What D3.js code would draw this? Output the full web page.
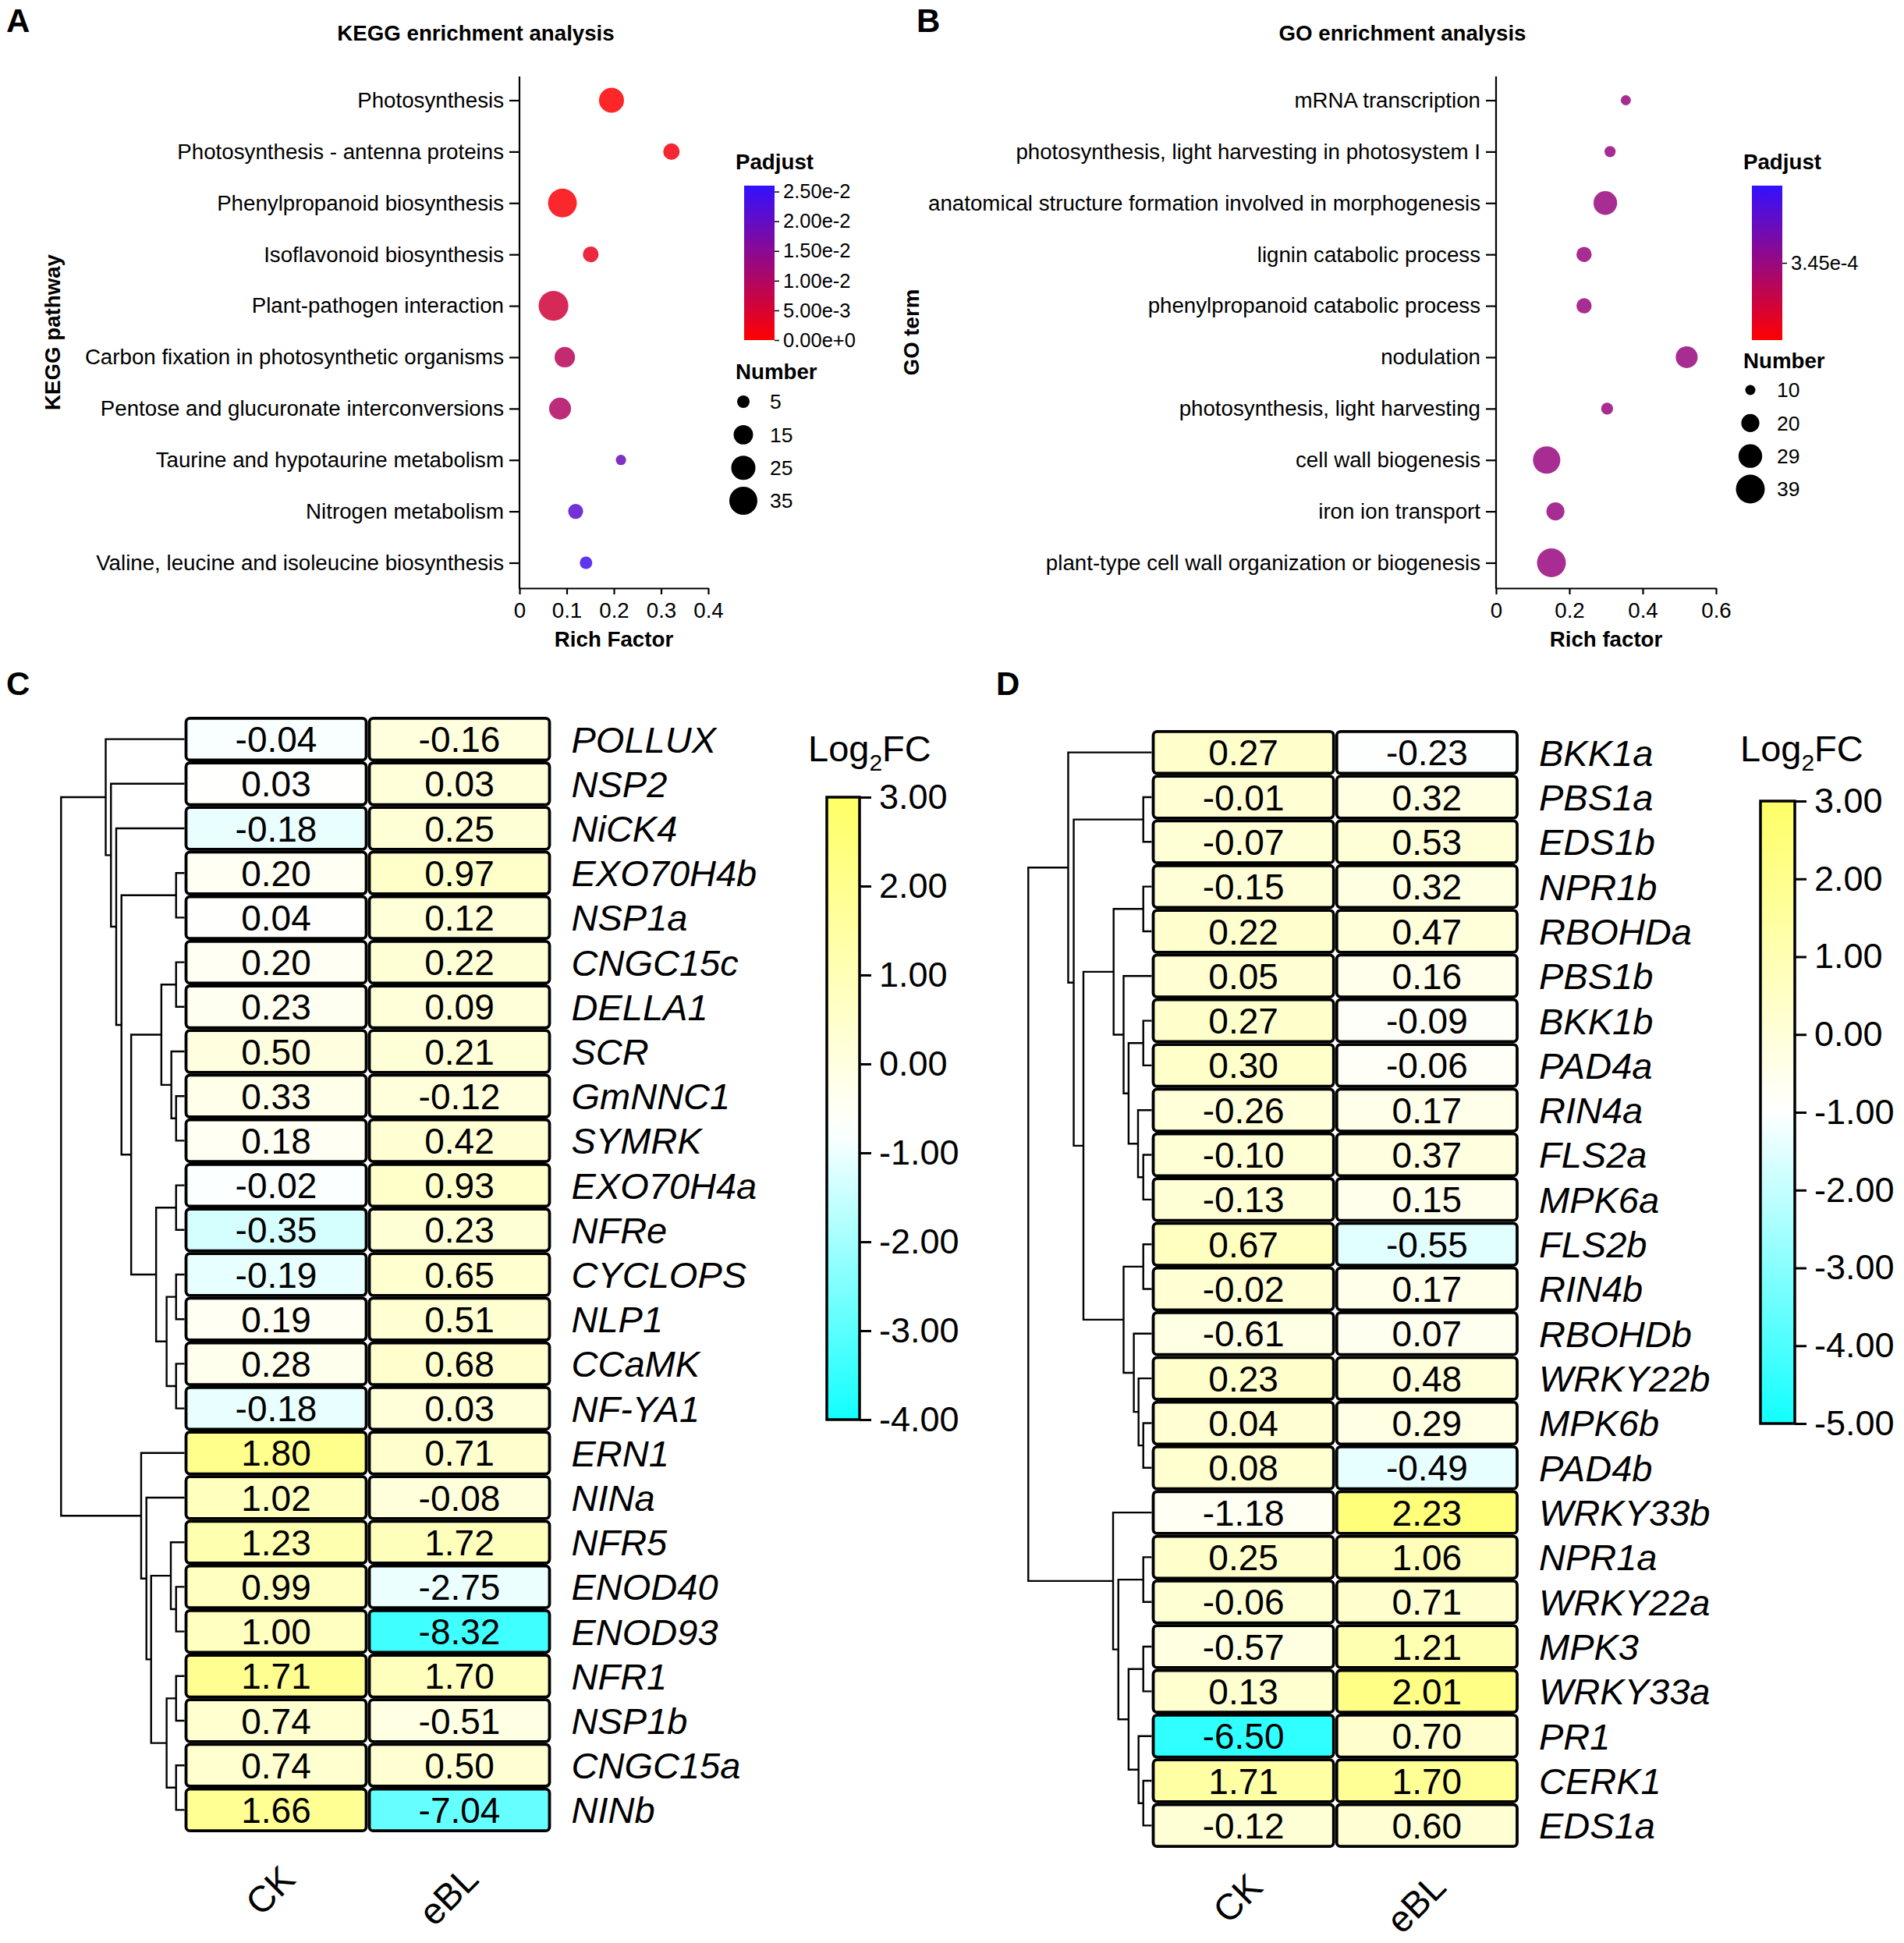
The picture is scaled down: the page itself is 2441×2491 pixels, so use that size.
<!DOCTYPE html>
<html>
<head>
<meta charset="utf-8">
<script src="https://cdn.jsdelivr.net/npm/d3@7"></script>
<style>
  body { margin: 0; background: #fff; }
  svg text { font-family: "Liberation Sans", Arial, sans-serif; fill: #000; }
</style>
</head>
<body>
<svg id="fig" width="2441" height="2491"></svg>
<script>
// ---------- Panel A: KEGG enrichment ----------
var keggTerms = [
  'Photosynthesis',
  'Photosynthesis - antenna proteins',
  'Phenylpropanoid biosynthesis',
  'Isoflavonoid biosynthesis',
  'Plant-pathogen interaction',
  'Carbon fixation in photosynthetic organisms',
  'Pentose and glucuronate interconversions',
  'Taurine and hypotaurine metabolism',
  'Nitrogen metabolism',
  'Valine, leucine and isoleucine biosynthesis'
];
var keggRich = [0.195, 0.322, 0.091, 0.151, 0.072, 0.096, 0.086, 0.215, 0.119, 0.141];
var keggCount = [27, 10, 37, 9, 40, 17, 20, 3, 8, 5];
var keggPadj = [0.0002, 0.0015, 0.0008, 0.003, 0.006, 0.009, 0.010, 0.019, 0.021, 0.024];
var keggXTicks = [0, 0.1, 0.2, 0.3, 0.4];
var keggPadjTicks = [0, 0.005, 0.01, 0.015, 0.02, 0.025];
var keggSizeTicks = [5, 15, 25, 35];

// ---------- Panel B: GO enrichment ----------
var goTerms = [
  'mRNA transcription',
  'photosynthesis, light harvesting in photosystem I',
  'anatomical structure formation involved in morphogenesis',
  'lignin catabolic process',
  'phenylpropanoid catabolic process',
  'nodulation',
  'photosynthesis, light harvesting',
  'cell wall biogenesis',
  'iron ion transport',
  'plant-type cell wall organization or biogenesis'
];
var goRich = [0.354, 0.311, 0.298, 0.240, 0.240, 0.520, 0.303, 0.138, 0.162, 0.151];
var goCount = [10, 11, 29, 16, 16, 26, 12, 36, 20, 39];
var goPadj = [3.45e-4, 3.45e-4, 3.45e-4, 3.45e-4, 3.45e-4, 3.45e-4, 3.45e-4, 3.45e-4, 3.45e-4, 3.45e-4];
var goXTicks = [0, 0.2, 0.4, 0.6];
var goPadjTicks = [3.45e-4];
var goSizeTicks = [10, 20, 29, 39];

// ---------- Panel C: nodulation genes heatmap ----------
var samples = ['CK', 'eBL'];
var nodGenes = ['POLLUX', 'NSP2', 'NiCK4', 'EXO70H4b', 'NSP1a', 'CNGC15c', 'DELLA1', 'SCR',
  'GmNNC1', 'SYMRK', 'EXO70H4a', 'NFRe', 'CYCLOPS', 'NLP1', 'CCaMK', 'NF-YA1', 'ERN1',
  'NINa', 'NFR5', 'ENOD40', 'ENOD93', 'NFR1', 'NSP1b', 'CNGC15a', 'NINb'];
var nodCK = [-0.04, 0.03, -0.18, 0.20, 0.04, 0.20, 0.23, 0.50, 0.33, 0.18, -0.02, -0.35, -0.19,
  0.19, 0.28, -0.18, 1.80, 1.02, 1.23, 0.99, 1.00, 1.71, 0.74, 0.74, 1.66];
var nodEBL = [-0.16, 0.03, 0.25, 0.97, 0.12, 0.22, 0.09, 0.21, -0.12, 0.42, 0.93, 0.23, 0.65,
  0.51, 0.68, 0.03, 0.71, -0.08, 1.72, -2.75, -8.32, 1.70, -0.51, 0.50, -7.04];
// [merge height, left, right]; leaves are gene names
var nodTree = [470,
  [300, 'POLLUX', [280, 'NSP2', [260, 'NiCK4', [240,
    [32, 'EXO70H4b', 'NSP1a'],
    [203,
      [88, [32, 'CNGC15c', 'DELLA1'], [50, 'SCR', [32, 'GmNNC1', 'SYMRK']]],
      [108, [32, 'EXO70H4a', 'NFRe'], [68, [32, 'CYCLOPS', 'NLP1'], [32, 'CCaMK', 'NF-YA1']]]]]]]],
  [165, 'ERN1', [145, 'NINa', [127,
    [52, 'NFR5', [32, 'ENOD40', 'ENOD93']],
    [68, [32, 'NFR1', 'NSP1b'], [32, 'CNGC15a', 'NINb']]]]]];
var nodLegendTicks = [3, 2, 1, 0, -1, -2, -3, -4];

// ---------- Panel D: immunity genes heatmap ----------
var immGenes = ['BKK1a', 'PBS1a', 'EDS1b', 'NPR1b', 'RBOHDa', 'PBS1b', 'BKK1b', 'PAD4a', 'RIN4a',
  'FLS2a', 'MPK6a', 'FLS2b', 'RIN4b', 'RBOHDb', 'WRKY22b', 'MPK6b', 'PAD4b', 'WRKY33b',
  'NPR1a', 'WRKY22a', 'MPK3', 'WRKY33a', 'PR1', 'CERK1', 'EDS1a'];
var immCK = [0.27, -0.01, -0.07, -0.15, 0.22, 0.05, 0.27, 0.30, -0.26, -0.10, -0.13, 0.67, -0.02,
  -0.61, 0.23, 0.04, 0.08, -1.18, 0.25, -0.06, -0.57, 0.13, -6.50, 1.71, -0.12];
var immEBL = [-0.23, 0.32, 0.53, 0.32, 0.47, 0.16, -0.09, -0.06, 0.17, 0.37, 0.15, -0.55, 0.17,
  0.07, 0.48, 0.29, -0.49, 2.23, 1.06, 0.71, 1.21, 2.01, 0.70, 1.70, 0.60];
var immTree = [470,
  [318, 'BKK1a', [297,
    [32, 'PBS1a', 'EDS1b'],
    [260,
      [145, [32, 'NPR1b', 'RBOHDa'], [107, 'PBS1b', [88, [32, 'BKK1b', 'PAD4a'], [52, 'RIN4a', [32, 'FLS2a', 'MPK6a']]]]],
      [107, [32, 'FLS2b', 'RIN4b'], [68, 'RBOHDb', [50, 'WRKY22b', [32, 'MPK6b', 'PAD4b']]]]]]],
  [147, 'WRKY33b', [127,
    [32, 'NPR1a', 'WRKY22a'],
    [88, [32, 'MPK3', 'WRKY33a'], [50, 'PR1', [32, 'CERK1', 'EDS1a']]]]]];
var immLegendTicks = [3, 2, 1, 0, -1, -2, -3, -4, -5];

// Plain hyphen minus, like the original figure.
var loc = d3.formatLocale({decimal: '.', thousands: ',', grouping: [3], currency: ['', ''], minus: '-'});
var f2 = loc.format('.2f');
var fExp = loc.format('.2e');
var fShort = loc.format('~g');

var svg = d3.select('#fig');
svg.append('rect').attr('width', 2441).attr('height', 2491).attr('fill', '#fff');

var gradCount = 0;

// Vertical gradient legend bar, drawn from a colour function over a domain.
function colorBar(g, yScale, colorFn, x, w, withBorder) {
  var id = 'grad' + (gradCount++);
  var dom = yScale.domain();
  var grad = svg.append('defs').append('linearGradient')
    .attr('id', id).attr('x1', 0).attr('y1', 1).attr('x2', 0).attr('y2', 0);
  d3.range(0, 1.0001, 0.05).forEach(function(t) {
    grad.append('stop').attr('offset', t)
      .attr('stop-color', colorFn(dom[0] + t * (dom[1] - dom[0])));
  });
  var r = yScale.range();
  g.append('rect')
    .attr('x', x).attr('y', Math.min(r[0], r[1]))
    .attr('width', w).attr('height', Math.abs(r[0] - r[1]))
    .attr('fill', 'url(#' + id + ')')
    .attr('stroke', withBorder ? '#000' : 'none')
    .attr('stroke-width', withBorder ? 3.5 : 0);
}

function styleAxis(sel, fontSize) {
  sel.attr('font-size', null).attr('font-family', null);
  sel.selectAll('text').style('font-size', fontSize + 'px').attr('fill', '#000');
  sel.selectAll('line,path').attr('stroke', '#000').attr('stroke-width', 2.2);
}

/**
 * Bubble plot for an enrichment table.
 */
function bubblePanel(cfg) {
  var g = svg.append('g');
  var y = d3.scalePoint().domain(cfg.terms).range([128.5, 721.5]);
  var x = d3.scaleLinear().domain(cfg.xDomain).range(cfg.xRange);
  var r = d3.scaleSqrt().domain(cfg.sizeDomain).range(cfg.sizeRange);
  var color = d3.scaleSequential(d3.interpolateRgb('#ff0000', '#3311ff')).domain(cfg.padjDomain);

  // Axes.
  var xAxis = g.append('g').attr('transform', 'translate(0,754)')
    .call(d3.axisBottom(x).tickValues(cfg.xTicks).tickFormat(fShort)
      .tickSize(8).tickSizeOuter(0).tickPadding(10));
  styleAxis(xAxis, 27.7);

  var yAxis = g.append('g').attr('transform', 'translate(' + cfg.xRange[0] + ',0)')
    .call(d3.axisLeft(y).tickSize(13).tickPadding(7));
  yAxis.select('.domain').remove();
  styleAxis(yAxis, 27.7);
  g.append('line')
    .attr('x1', cfg.xRange[0]).attr('x2', cfg.xRange[0])
    .attr('y1', 98).attr('y2', 755)
    .attr('stroke', '#000').attr('stroke-width', 2.2);

  // Points.
  g.selectAll('circle.pt').data(cfg.terms).enter().append('circle')
    .attr('class', 'pt')
    .attr('cx', function(d, i) { return x(cfg.rich[i]); })
    .attr('cy', function(d) { return y(d); })
    .attr('r', function(d, i) { return r(cfg.count[i]); })
    .attr('fill', function(d, i) { return color(cfg.padj[i]); })
    .attr('fill-opacity', 0.85);

  // Titles.
  g.append('text').attr('x', (cfg.xRange[0] + cfg.xRange[1]) / 2 + cfg.titleShift).attr('y', 52)
    .attr('text-anchor', 'middle').style('font-size', '27.7px').style('font-weight', 'bold')
    .text(cfg.title);
  g.append('text').attr('x', (cfg.xRange[0] + cfg.xRange[1]) / 2).attr('y', 829)
    .attr('text-anchor', 'middle').style('font-size', '27.7px').style('font-weight', 'bold')
    .text(cfg.xLabel);
  g.append('text')
    .attr('transform', 'translate(' + cfg.yLabelX + ',426) rotate(-90)')
    .attr('text-anchor', 'middle').attr('dy', '0.35em')
    .style('font-size', '27.7px').style('font-weight', 'bold')
    .text(cfg.yLabel);
  g.append('text').attr('x', cfg.panelX).attr('y', 41)
    .style('font-size', '42px').style('font-weight', 'bold').text(cfg.panel);

  // Padjust legend.
  var lx = cfg.legendX;
  g.append('text').attr('x', lx).attr('y', 217)
    .style('font-size', '27.7px').style('font-weight', 'bold').text('Padjust');
  var barY = d3.scaleLinear().domain(cfg.padjDomain).range([436, 238]);
  colorBar(g, barY, color, lx + 11, 39, false);
  var bAxis = g.append('g').attr('transform', 'translate(' + (lx + 50) + ',0)')
    .call(d3.axisRight(barY).tickValues(cfg.padjTicks).tickFormat(fExp).tickSize(6).tickPadding(5));
  bAxis.select('.domain').remove();
  styleAxis(bAxis, 25.5);
  bAxis.selectAll('line').attr('stroke-width', 1.5);

  // Number legend.
  g.append('text').attr('x', lx).attr('y', cfg.numTitleY)
    .style('font-size', '27.7px').style('font-weight', 'bold').text('Number');
  var ly = d3.scalePoint().domain(cfg.sizeTicks).range(cfg.numRange);
  g.selectAll('circle.lg').data(cfg.sizeTicks).enter().append('circle')
    .attr('class', 'lg')
    .attr('cx', lx + cfg.numDx).attr('cy', function(d) { return ly(d); })
    .attr('r', function(d) { return r(d); }).attr('fill', '#000');
  g.selectAll('text.lg').data(cfg.sizeTicks).enter().append('text')
    .attr('class', 'lg')
    .attr('x', lx + cfg.numTx).attr('y', function(d) { return ly(d); }).attr('dy', '0.35em')
    .style('font-size', '26.5px').text(function(d) { return d; });
}

bubblePanel({
  panel: 'A', panelX: 8, title: 'KEGG enrichment analysis', titleShift: -177,
  xLabel: 'Rich Factor', yLabel: 'KEGG pathway', yLabelX: 67,
  terms: keggTerms, rich: keggRich, count: keggCount, padj: keggPadj,
  xDomain: [0, 0.4], xRange: [666, 908], xTicks: keggXTicks,
  sizeDomain: [5, 35], sizeRange: [8, 18], sizeTicks: keggSizeTicks,
  padjDomain: [0, 0.026], padjTicks: keggPadjTicks,
  legendX: 943, numTitleY: 486, numRange: [515, 642], numDx: 10, numTx: 44
});

bubblePanel({
  panel: 'B', panelX: 1175, title: 'GO enrichment analysis', titleShift: -261,
  xLabel: 'Rich factor', yLabel: 'GO term', yLabelX: 1168,
  terms: goTerms, rich: goRich, count: goCount, padj: goPadj,
  xDomain: [0, 0.6], xRange: [1918, 2200], xTicks: goXTicks,
  sizeDomain: [10, 39], sizeRange: [6.5, 18.5], sizeTicks: goSizeTicks,
  padjDomain: [3.40e-4, 3.50e-4], padjTicks: goPadjTicks,
  legendX: 2235, numTitleY: 472, numRange: [500, 627], numDx: 9, numTx: 43
});

/**
 * Heatmap with row dendrogram; colours follow column z-scores.
 */
function heatPanel(cfg) {
  var g = svg.append('g');
  var y = d3.scaleBand().domain(cfg.genes).range([cfg.top, cfg.bottom]);
  var x = d3.scaleBand().domain(samples).range([cfg.left, cfg.right]);
  var color = d3.scaleLinear().domain(cfg.colorDomain)
    .range(['#11ffff', '#ffffff', '#ffff66']).clamp(true);

  var cells = [];
  [cfg.ck, cfg.ebl].forEach(function(vals, j) {
    var m = d3.mean(vals), s = d3.deviation(vals);
    vals.forEach(function(v, i) {
      cells.push({gene: cfg.genes[i], sample: samples[j], value: v, z: (v - m) / s});
    });
  });

  g.selectAll('rect.cell').data(cells).enter().append('rect')
    .attr('class', 'cell')
    .attr('x', function(d) { return x(d.sample) + 2; })
    .attr('y', function(d) { return y(d.gene) + 1.8; })
    .attr('width', x.bandwidth() - 4)
    .attr('height', y.bandwidth() - 3.6)
    .attr('rx', 5)
    .attr('fill', function(d) { return color(d.z); })
    .attr('stroke', '#000').attr('stroke-width', 3.8);

  g.selectAll('text.val').data(cells).enter().append('text')
    .attr('class', 'val')
    .attr('x', function(d) { return x(d.sample) + x.bandwidth() / 2; })
    .attr('y', function(d) { return y(d.gene) + y.bandwidth() / 2; })
    .attr('dy', '0.36em').attr('text-anchor', 'middle')
    .style('font-size', '46px')
    .text(function(d) { return f2(d.value); });

  g.selectAll('text.gene').data(cfg.genes).enter().append('text')
    .attr('class', 'gene')
    .attr('x', cfg.right + 26)
    .attr('y', function(d) { return y(d) + y.bandwidth() / 2; })
    .attr('dy', '0.36em')
    .style('font-size', '47px').style('font-style', 'italic')
    .text(function(d) { return d; });

  g.selectAll('text.sample').data(samples).enter().append('text')
    .attr('class', 'sample')
    .attr('transform', function(d) {
      return 'translate(' + (x(d) + x.bandwidth() / 2 + 27) + ',' + (cfg.bottom + cfg.sampleDy) + ') rotate(-45)';
    })
    .attr('text-anchor', 'end')
    .style('font-size', '47px')
    .text(function(d) { return d; });

  // Row dendrogram.
  var root = d3.hierarchy(cfg.tree, function(d) { return Array.isArray(d) ? d.slice(1) : null; });
  var hx = d3.scaleLinear().domain([0, cfg.tree[0]]).range([cfg.left, cfg.rootX]);
  root.eachAfter(function(n) {
    if (!n.children) {
      n.py = y(n.data) + y.bandwidth() / 2;
      n.px = hx(0);
    } else {
      n.py = d3.mean(n.children, function(c) { return c.py; });
      n.px = hx(n.data[0]);
    }
  });
  var p = d3.path();
  root.each(function(n) {
    if (!n.children) return;
    var a = n.children[0], b = n.children[1];
    p.moveTo(a.px, a.py);
    p.lineTo(n.px, a.py);
    p.lineTo(n.px, b.py);
    p.lineTo(b.px, b.py);
  });
  g.append('path').attr('d', p.toString())
    .attr('fill', 'none').attr('stroke', '#000').attr('stroke-width', 2.4);

  // Legend.
  var lg = g.append('text').attr('x', cfg.legendTextX).attr('y', 976).style('font-size', '47px');
  lg.append('tspan').text('Log');
  lg.append('tspan').attr('dy', 12).style('font-size', '30px').text('2');
  lg.append('tspan').attr('dy', -12).text('FC');

  var barY = d3.scaleLinear()
    .domain([cfg.legendTicks[cfg.legendTicks.length - 1], cfg.legendTicks[0]])
    .range(cfg.barRange);
  colorBar(g, barY, color, cfg.barX, cfg.barW, true);
  var bAxis = g.append('g').attr('transform', 'translate(' + (cfg.barX + cfg.barW) + ',0)')
    .call(d3.axisRight(barY).tickValues(cfg.legendTicks).tickFormat(f2).tickSize(15).tickPadding(10));
  bAxis.select('.domain').remove();
  styleAxis(bAxis, 45);
  bAxis.selectAll('line').attr('stroke-width', 3);

  g.append('text').attr('x', cfg.panelX).attr('y', 891)
    .style('font-size', '42px').style('font-weight', 'bold').text(cfg.panel);
}

heatPanel({
  panel: 'C', panelX: 8,
  genes: nodGenes, ck: nodCK, ebl: nodEBL, tree: nodTree,
  top: 919, bottom: 2349, left: 236.5, right: 706.5, rootX: 78.3, sampleDy: 63,
  colorDomain: [-4, -0.75, 3], legendTicks: nodLegendTicks,
  legendTextX: 1036, barX: 1060, barW: 42, barRange: [1820, 1022]
});

heatPanel({
  panel: 'D', panelX: 1277,
  genes: immGenes, ck: immCK, ebl: immEBL, tree: immTree,
  top: 936, bottom: 2369, left: 1476.5, right: 1947, rootX: 1318.3, sampleDy: 53,
  colorDomain: [-5, -1, 3], legendTicks: immLegendTicks,
  legendTextX: 2231, barX: 2257, barW: 44, barRange: [1825, 1027]
});
</script>
</body>
</html>
